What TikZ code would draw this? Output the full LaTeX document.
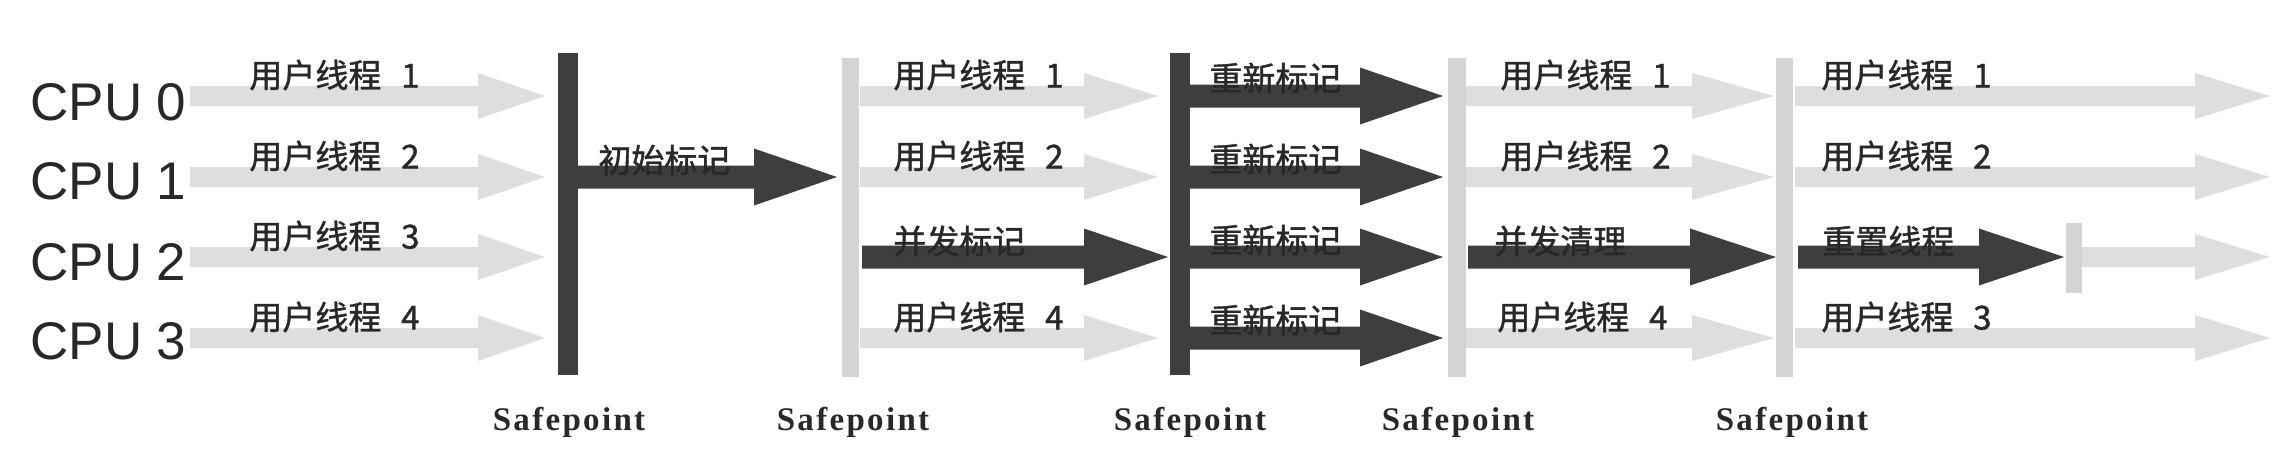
\documentclass[tikz,border=0pt]{standalone}
\usepackage{fontspec}
\setmainfont{Liberation Serif}
\newfontfamily\cjkf[FakeBold=1.2]{Noto Sans CJK SC}
\newfontfamily\arialf{Liberation Sans}
\newfontfamily\spf[LetterSpace=7]{Liberation Serif}
\definecolor{darkc}{RGB}{62,62,62}
\definecolor{lightc}{RGB}{222,222,222}
\definecolor{lbarc}{RGB}{212,212,212}
\definecolor{txtc}{RGB}{40,40,40}
% dark block arrow: start x, head-base x, tip x, row y
\newcommand\darr[4]{\fill[darkc] (#1,#4-11.5) -- (#2,#4-11.5) -- (#2,#4-28.5) -- (#3,#4) -- (#2,#4+28.5) -- (#2,#4+11.5) -- (#1,#4+11.5) -- cycle;}
% light block arrow
\newcommand\larr[4]{\fill[lightc] (#1,#4-10) -- (#2,#4-10) -- (#2,#4-23) -- (#3,#4) -- (#2,#4+23) -- (#2,#4+10) -- (#1,#4+10) -- cycle;}
\tikzset{
  lbl/.style={font=\cjkf\fontsize{16.5}{18}\selectfont, text=txtc, inner sep=0pt, anchor=west},
  cpu/.style={font=\arialf\fontsize{26.5}{30}\selectfont, text=txtc, inner sep=0pt, anchor=west},
  sp/.style={font=\spf\bfseries\fontsize{16.5}{18}\selectfont, text=txtc, inner sep=0pt, anchor=base},
  dbar/.style={fill=darkc},
  lbar/.style={fill=lbarc}
}
\begin{document}
\begin{tikzpicture}[x=0.5pt,y=-0.5pt]
\useasboundingbox[fill=white] (0,0) rectangle (2282,466);
% light arrows
\foreach \y in {96,177,257,338} {\larr{190}{478}{545}{\y}}
\foreach \y in {96,177,338} {\larr{860}{1084}{1158}{\y}}
\foreach \y in {96,177,338} {\larr{1466}{1692}{1774}{\y}}
\foreach \y in {96,177,338} {\larr{1795}{2195}{2270}{\y}}
\larr{2072}{2195}{2270}{257}
\fill[lbarc] (2066,223) rectangle (2082,293);
% safepoint bars
\fill[dbar] (558,53) rectangle (578,375);
\fill[lbar] (842,58) rectangle (859,377);
\fill[dbar] (1170,53) rectangle (1190,375);
\fill[lbar] (1448,58) rectangle (1466,377);
\fill[lbar] (1776,58) rectangle (1793,377);
% dark arrows
\darr{578}{754}{837}{177}
\darr{862}{1084}{1168}{257}
\foreach \y in {96,177,257,338} {\darr{1190}{1360}{1443}{\y}}
\darr{1468}{1690}{1776}{257}
\darr{1798}{1979}{2064}{257}
% CPU labels
\node[cpu] (c0) at (30,102) {CPU 0};
\node[cpu] (c1) at (30,181) {CPU 1};
\node[cpu] (c2) at (30,262) {CPU 2};
\node[cpu] (c3) at (30,341) {CPU 3};
% segment A labels
\node[lbl] (a0) at (249,75) {用户线程\hspace{0.6em}1};
\node[lbl] (a1) at (249,156) {用户线程\hspace{0.6em}2};
\node[lbl] (a2) at (249,236) {用户线程\hspace{0.6em}3};
\node[lbl] (a3) at (249,317) {用户线程\hspace{0.6em}4};
\node[lbl] (init) at (598,160) {初始标记};
% segment B labels
\node[lbl] (b0) at (893,75) {用户线程\hspace{0.6em}1};
\node[lbl] (b1) at (893,156) {用户线程\hspace{0.6em}2};
\node[lbl] (b2) at (893,241) {并发标记};
\node[lbl] (b3) at (893,317) {用户线程\hspace{0.6em}4};
% remark labels
\node[lbl] (r0) at (1209,78) {重新标记};
\node[lbl] (r1) at (1209,159) {重新标记};
\node[lbl] (r2) at (1209,240) {重新标记};
\node[lbl] (r3) at (1209,320) {重新标记};
% segment C labels
\node[lbl] (d0) at (1500,75) {用户线程\hspace{0.6em}1};
\node[lbl] (d1) at (1500,156) {用户线程\hspace{0.6em}2};
\node[lbl] (d2) at (1494,241) {并发清理};
\node[lbl] (d3) at (1497,317) {用户线程\hspace{0.6em}4};
% segment D labels
\node[lbl] (e0) at (1821,75) {用户线程\hspace{0.6em}1};
\node[lbl] (e1) at (1821,156) {用户线程\hspace{0.6em}2};
\node[lbl] (e2) at (1822,241) {重置线程};
\node[lbl] (e3) at (1821,317) {用户线程\hspace{0.6em}3};
% safepoint labels
\node[sp] (s1) at (569,430) {Safepoint};
\node[sp] (s2) at (853,430) {Safepoint};
\node[sp] (s3) at (1190,430) {Safepoint};
\node[sp] (s4) at (1458,430) {Safepoint};
\node[sp] (s5) at (1792,430) {Safepoint};
\end{tikzpicture}
\end{document}
